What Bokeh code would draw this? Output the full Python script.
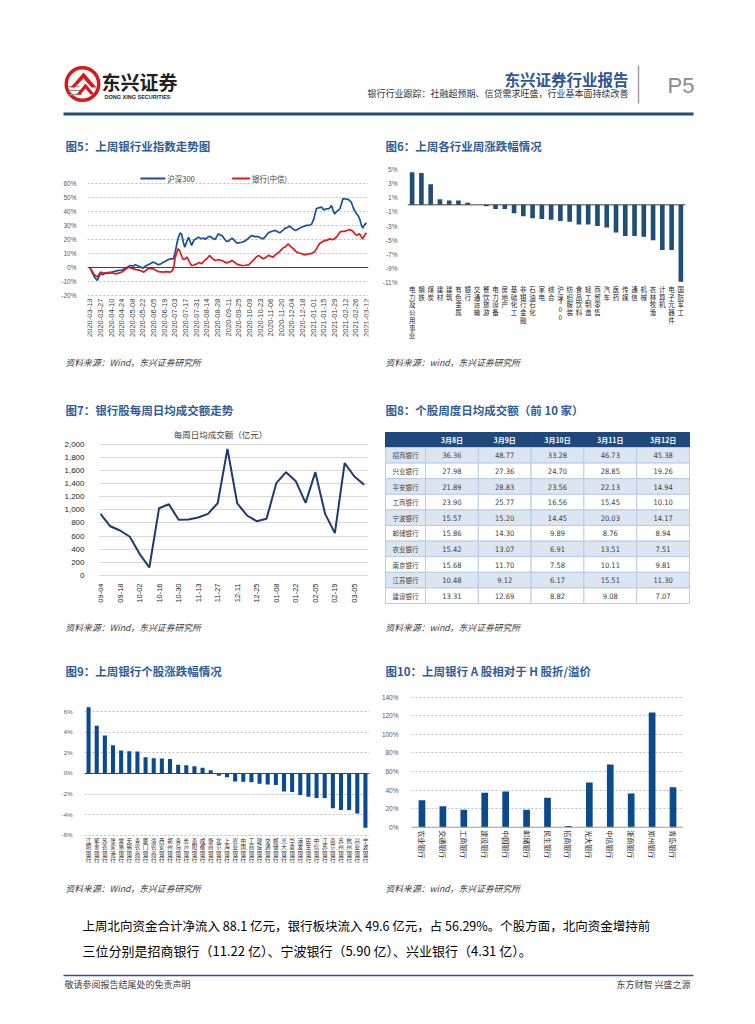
import math
import pandas as pd
from bokeh.plotting import figure
from bokeh.layouts import column, row
from bokeh.models import (Range1d, FactorRange, FixedTicker, Span,
                          NumeralTickFormatter, PrintfTickFormatter, ColumnDataSource)
from bokeh.core.properties import value
from bokeh.embed import file_html
from bokeh.resources import INLINE

CJK = "Noto Sans CJK SC"
LAT = "Liberation Sans"
NARROW = "Liberation Sans Narrow, DejaVu Sans Condensed, Liberation Sans"

# ---------------- data ----------------
fig5_start = "2020-03-13"
hs300_days = [0, 3, 5, 7, 10, 12, 14, 17, 20, 24, 29, 33, 38, 42, 47, 50, 53, 57, 60, 63, 66, 70, 73, 77,
              80, 83, 86, 90, 93, 96, 99, 103, 106, 110, 112, 115, 117, 119, 121, 123, 125, 128, 130, 132,
              134, 137, 140, 143, 147, 150, 152, 155, 158, 161, 165, 167, 169, 172, 174, 177, 180, 183,
              185, 187, 190, 193, 196, 200, 204, 208, 213, 217, 222, 225, 228, 231, 235, 238, 241, 244,
              247, 250, 254, 257, 260, 263, 266, 270, 273, 276, 280, 283, 285, 289, 292, 295, 298, 301,
              305, 308, 311, 315, 318, 320, 322, 325, 329, 331, 333, 336, 340, 344, 347, 349, 351, 353,
              355, 357, 359, 361, 364]
hs300_vals = [0, -3.5, -5.7, -7.5, -9.3, -6.5, -4.5, -5.2, -3.8, -4.2, -3.3, -2.8, -2.1, -1.8, -0.5, 0.3,
              1.4, 1.0, 1.9, 1.2, 0.5, -0.5, 1.0, 2.0, 2.9, 3.8, 3.3, 2.0, 2.4, 3.5, 4.3, 5.5, 6.2, 6.2,
              10.0, 18.0, 22.0, 24.7, 23.5, 18.0, 14.5, 19.0, 21.6, 18.5, 15.7, 19.5, 20.5, 21.6, 20.5,
              21.0, 20.0, 21.5, 22.3, 21.0, 20.0, 22.0, 24.0, 23.0, 22.8, 20.5, 18.5, 19.0, 20.0, 20.9,
              19.5, 17.6, 17.5, 18.0, 18.8, 20.5, 22.8, 22.0, 22.0, 21.0, 20.4, 22.0, 24.7, 25.5, 26.0,
              26.4, 25.5, 24.7, 26.5, 28.0, 28.5, 29.5, 28.0, 26.4, 27.0, 28.0, 29.0, 29.5, 30.0, 30.0,
              31.0, 35.0, 41.8, 42.5, 43.0, 41.0, 41.8, 42.0, 44.2, 41.0, 38.2, 40.0, 41.8, 45.0, 49.0,
              48.8, 48.5, 46.6, 42.0, 40.0, 38.2, 37.0, 34.7, 31.0, 28.0, 30.0, 31.8]
bank_days = [0, 3, 5, 8, 10, 12, 14, 17, 20, 24, 29, 33, 38, 42, 45, 48, 51, 55, 58, 61, 64, 68, 71, 74,
             77, 80, 84, 87, 90, 94, 97, 101, 106, 109, 111, 112, 114, 116, 117.5, 119, 121, 123, 125,
             128, 131, 134, 137, 141, 144, 147, 150, 154, 156, 158, 161, 165, 169, 174, 177, 180, 183,
             185, 187, 190, 193, 196, 200, 204, 209, 212, 215, 218, 222, 225, 228, 231, 235, 238, 241,
             244, 248, 251, 254, 258, 261, 264, 268, 271, 274, 278, 283, 286, 289, 292, 296, 299, 302,
             305, 309, 312, 316, 319, 322, 325, 329, 332, 335, 339, 342, 344, 346, 349, 351, 353, 355,
             357, 359, 361, 364]
bank_vals = [0, -2.5, -4.5, -6.0, -6.9, -5.0, -3.3, -3.8, -4.5, -3.5, -3.8, -4.5, -4.0, -3.2, -2.1, -1.0,
             0.2, -0.5, -1.0, -1.5, -1.7, -2.5, -3.3, -2.0, -0.5, -0.8, -1.0, -2.0, -2.9, -3.1, -3.3,
             -3.0, -3.3, -2.1, 2.0, 6.2, 10.0, 13.3, 12.5, 10.9, 8.0, 5.7, 6.0, 7.4, 4.0, 1.4, 1.8, 2.6,
             3.5, 2.6, 4.5, 6.2, 7.5, 8.6, 6.5, 5.0, 5.5, 5.0, 4.0, 3.3, 3.8, 4.3, 5.0, 4.0, 2.6, 2.0,
             1.4, 1.6, 1.9, 3.5, 5.0, 7.0, 8.6, 7.5, 6.2, 7.0, 8.6, 8.0, 7.4, 9.0, 10.5, 12.0, 13.8,
             15.0, 16.9, 15.0, 13.3, 11.5, 10.5, 10.0, 9.0, 9.5, 9.7, 10.0, 11.4, 14.0, 16.9, 18.0, 19.2,
             19.5, 20.4, 19.8, 20.4, 22.0, 25.2, 25.8, 25.7, 26.5, 27.0, 26.5, 25.7, 24.0, 22.8, 23.5,
             24.0, 22.0, 20.4, 22.5, 24.7]
fig5_ticks = ["2020-03-13", "2020-03-27", "2020-04-10", "2020-04-24", "2020-05-08", "2020-05-22",
              "2020-06-05", "2020-06-19", "2020-07-03", "2020-07-17", "2020-07-31", "2020-08-14",
              "2020-08-28", "2020-09-11", "2020-09-25", "2020-10-09", "2020-10-23", "2020-11-06",
              "2020-11-20", "2020-12-04", "2020-12-18", "2021-01-01", "2021-01-15", "2021-01-29",
              "2021-02-12", "2021-02-26", "2021-03-12"]
fig5_series = ["沪深300", "银行(中信)"]

ind_names = ["电力及公用事业", "钢铁", "煤炭", "建材", "建筑", "有色金属", "银行", "交通运输", "餐饮旅游",
             "电力设备", "房地产", "基础化工", "非银行金融", "石油石化", "家电", "综合", "沪深300", "纺织服装",
             "食品饮料", "轻工制造", "商贸零售", "汽车", "医药", "传媒", "通信", "机械", "农林牧渔", "计算机",
             "电子元器件", "国防军工"]
ind_chg = [4.6, 4.5, 2.9, 0.8, 0.6, 0.6, 0.3, 0.0, -0.2, -0.6, -0.6, -1.2, -1.6, -1.9, -2.0, -2.1, -2.3,
           -2.4, -2.8, -2.8, -3.0, -3.2, -3.9, -4.4, -4.4, -4.5, -5.0, -6.4, -6.4, -10.9]

week_dates = ["2020-09-04", "2020-09-11", "2020-09-18", "2020-09-25", "2020-10-02", "2020-10-09",
              "2020-10-16", "2020-10-23", "2020-10-30", "2020-11-06", "2020-11-13", "2020-11-20",
              "2020-11-27", "2020-12-04", "2020-12-11", "2020-12-18", "2020-12-25", "2021-01-01",
              "2021-01-08", "2021-01-15", "2021-01-22", "2021-01-29", "2021-02-05", "2021-02-12",
              "2021-02-19", "2021-02-26", "2021-03-05", "2021-03-12"]
turnover = [940, 750, 685, 590, 330, 122, 1025, 1086, 848, 853, 883, 939, 1100, 1929, 1100, 914, 827, 863,
            1406, 1574, 1437, 1107, 1574, 939, 645, 1711, 1508, 1381]

tbl_dates = ["3月8日", "3月9日", "3月10日", "3月11日", "3月12日"]
tbl_banks = ["招商银行", "兴业银行", "平安银行", "工商银行", "宁波银行", "邮储银行", "农业银行", "南京银行",
             "江苏银行", "建设银行"]
tbl_d1 = ["36.36", "27.98", "21.89", "23.90", "15.57", "15.86", "15.42", "15.68", "10.48", "13.31"]
tbl_d2 = ["48.77", "27.36", "28.83", "25.77", "15.20", "14.30", "13.07", "11.70", "9.12", "12.69"]
tbl_d3 = ["33.28", "24.70", "23.56", "16.56", "14.45", "9.89", "6.91", "7.58", "6.17", "8.82"]
tbl_d4 = ["46.73", "28.85", "22.13", "15.45", "20.03", "8.76", "13.51", "10.11", "15.51", "9.08"]
tbl_d5 = ["45.38", "19.26", "14.94", "10.10", "14.17", "8.94", "7.51", "9.81", "11.30", "7.07"]

stock_names = ["江阴银行", "紫金银行", "苏农银行", "张家港行", "常熟银行", "无锡银行", "青农商行", "厦门银行",
               "渝农商行", "西安银行", "郑州银行", "青岛银行", "长沙银行", "贵阳银行", "成都银行", "浙商银行",
               "北京银行", "上海银行", "农业银行", "中国银行", "工商银行", "建设银行", "交通银行", "邮储银行",
               "光大银行", "华夏银行", "浦发银行", "民生银行", "中信银行", "江苏银行", "南京银行", "苏州银行",
               "杭州银行", "兴业银行", "宁波银行"]
stock_chg = [6.44, 4.63, 3.69, 2.75, 2.23, 2.17, 2.14, 1.59, 1.49, 1.46, 1.42, 0.84, 0.81, 0.71, 0.55, 0.32,
             -0.23, -0.36, -0.78, -0.81, -0.84, -1.00, -1.07, -1.13, -1.75, -1.81, -2.10, -2.27, -2.39,
             -2.39, -3.37, -3.56, -3.56, -3.88, -5.27]

ah_banks = ["农业银行", "交通银行", "工商银行", "建设银行", "中国银行", "邮储银行", "民生银行", "招商银行",
            "光大银行", "中信银行", "浙商银行", "郑州银行", "青岛银行"]
ah_prem = [29.0, 22.6, 18.7, 37.0, 38.4, 18.7, 31.6, 1.4, 48.1, 67.5, 36.3, 123.5, 43.1]

# ---------------- helpers ----------------
TITLE_BLUE = "#2E5C98"
PW = 747  # page content width (page coords 0..747)


def band(top, bottom, x0=0, x1=PW, **kw):
    p = figure(width=int(x1 - x0), height=int(bottom - top), x_range=Range1d(x0, x1),
               y_range=Range1d(bottom, top), toolbar_location=None, output_backend="svg",
               min_border=0, x_axis_location=None, y_axis_location=None, **kw)
    p.grid.visible = False
    p.outline_line_color = None
    return p


def txt(p, x, y, s, size, color="#000000", bold=False, italic=False, align="left",
        font=CJK, baseline="middle"):
    style = "bold" if bold else ("italic" if italic else "normal")
    p.text(x=[x], y=[y], text=[s], text_font=value(font), text_font_size=value(f"{size}px"),
           text_color=color, text_font_style=style, text_align=align, text_baseline=baseline)


def chart(w, h, **kw):
    p = figure(width=w, height=h, toolbar_location=None, output_backend="svg",
               x_axis_location=None, **kw)
    p.outline_line_color = None
    return p


def yax(axis, size, color, standoff):
    axis.axis_line_color = None
    axis.major_tick_line_color = None
    axis.minor_tick_line_color = None
    axis.major_label_text_font_size = f"{size}px"
    axis.major_label_text_color = color
    axis.major_label_text_font = LAT
    axis.major_label_standoff = standoff


def labels(p, xs, y, texts, size, color, angle=0.0, align="center", baseline="top", yoff=2,
           font=CJK):
    src = ColumnDataSource(dict(x=xs, y=[y] * len(xs), t=texts))
    p.text(x="x", y="y", text="t", source=src, angle=angle, y_offset=yoff,
           text_font=value(font), text_font_size=value(f"{size}px"), text_color=color,
           text_align=align, text_baseline=baseline)


def stacked(p, cats, y, step, size, color, yoff0):
    """category labels written as upright characters stacked downward below value y"""
    xs, ts, offs = [], [], []
    for c in cats:
        for k, ch in enumerate(c):
            xs.append(c)
            ts.append(ch)
            offs.append(yoff0 + k * step)
    src = ColumnDataSource(dict(x=xs, y=[y] * len(xs), t=ts, o=offs))
    p.text(x="x", y="y", text="t", y_offset="o", source=src, text_font=value(CJK),
           text_font_size=value(f"{size}px"), text_color=color, text_align="center",
           text_baseline="top")


def dt(d, days=0.0):
    return (pd.Timestamp(d) + pd.Timedelta(days=days)).to_pydatetime()


# ---------------- band 1: header (page y 0..165) ----------------
b1 = band(0, 165)
RED = "#D7191C"
b1.annulus(x=[82], y=[83.5], inner_radius=14.5, outer_radius=18, fill_color=RED, line_color=None)
b1.segment(x0=[68, 68, 69], y0=[86, 90, 94], x1=[79, 80, 81], y1=[86, 90, 94], line_color="#9a9a9a",
           line_width=1.5)
b1.patch(x=[70, 83, 96, 91, 83, 74], y=[87, 72, 87, 87, 78, 87], fill_color=RED, line_color=None)
b1.patch(x=[76, 85, 94, 90, 85, 80], y=[94, 83, 94, 94, 88, 94], fill_color=RED, line_color=None)
txt(b1, 101, 81, "东兴证券", 19, "#231F20", bold=True)
txt(b1, 104, 96, "DONG XING SECURITIES", 5.5, "#231F20", bold=True, font=LAT)
txt(b1, 628, 78.5, "东兴证券行业报告", 15.5, "#2F5597", bold=True, align="right")
txt(b1, 628, 92.5, "银行行业跟踪：社融超预期、信贷需求旺盛，行业基本面持续改善", 9, "#333333",
    align="right")
b1.segment(x0=[638], y0=[65], x1=[638], y1=[103], line_color="#a0a0a0", line_width=1.5)
txt(b1, 667, 85, "P5", 22, "#8c8c8c", font=LAT)
b1.segment(x0=[63], y0=[113.5], x1=[693], y1=[113.5], line_color="#1F4E79", line_width=3)
txt(b1, 65, 145, "图5：上周银行业指数走势图", 11.5, TITLE_BLUE, bold=True)
txt(b1, 385, 145, "图6：上周各行业周涨跌幅情况", 11.5, TITLE_BLUE, bold=True)

# ---------------- fig 5 (page y 165..355, frame 169..340) ----------------
hs_x = [dt(fig5_start, d) for d in hs300_days]
bk_x = [dt(fig5_start, d) for d in bank_days]
p5 = chart(378, 190, x_range=Range1d(dt(fig5_start, -3.0), dt(fig5_start, 366.7)),
           y_range=Range1d(-52.0, 69.8),
           min_border_left=87, min_border_right=10, min_border_top=4, min_border_bottom=15)
p5.yaxis.ticker = FixedTicker(ticks=list(range(-20, 61, 10)))
p5.yaxis.formatter = PrintfTickFormatter(format="%d%%")
yax(p5.yaxis, 6.5, "#595959", 5)
p5.xgrid.visible = False
p5.ygrid.grid_line_color = "#bfbfbf"
p5.ygrid.grid_line_dash = "2 2"
p5.add_layout(Span(location=0, dimension="width", line_color="#404040", line_width=1))
BLUE5, RED5 = "#1B4F9C", "#E4181C"
p5.line(hs_x, hs300_vals, line_color=BLUE5, line_width=1.7)
p5.line(bk_x, bank_vals, line_color=RED5, line_width=1.7)
labels(p5, [dt(d) for d in fig5_ticks], -20, fig5_ticks, 7.5, "#404040", angle=math.pi / 2,
       align="right", baseline="middle", yoff=3, font=LAT)


# legend (placed in screen pixels of the page, converted through this chart's scales)
def px5(px):
    return dt(fig5_start, (px - 89.3) / 0.762)


LEG_Y = (267 - 178) / 1.404
p5.segment(x0=[px5(140), px5(232)], y0=[LEG_Y, LEG_Y], x1=[px5(165), px5(250)], y1=[LEG_Y, LEG_Y],
           line_color=[BLUE5, RED5], line_width=2.2)
p5.text(x=[px5(167), px5(252)], y=[LEG_Y, LEG_Y], text=fig5_series, text_font=value(CJK),
        text_font_size=value("7.5px"), text_color="#404040", text_align="left", text_baseline="middle")

# ---------------- fig 6 ----------------
ind_colors = ["#C00000" if n == "银行" else "#1F4E79" for n in ind_names]
p6 = chart(369, 190, x_range=FactorRange(*ind_names), y_range=Range1d(-19.2, 5),
           min_border_left=29, min_border_right=62, min_border_top=4, min_border_bottom=15)
p6.vbar(x=ind_names, top=ind_chg, width=0.5, fill_color=ind_colors, line_color=None)
p6.add_layout(Span(location=0, dimension="width", line_color="#404040", line_width=1))
p6.yaxis.ticker = FixedTicker(ticks=[5, 3, 1, -1, -3, -5, -7, -9, -11])
p6.yaxis.formatter = PrintfTickFormatter(format="%d%%")
yax(p6.yaxis, 6.5, "#595959", 4)
p6.grid.visible = False
stacked(p6, ind_names, -11, 7.7, 6.5, "#262626", 1.5)

# ---------------- band 2 (page y 355..425) ----------------
b2 = band(355, 425)
txt(b2, 65, 362, "资料来源：Wind，东兴证券研究所", 8.8, "#404040", italic=True)
txt(b2, 385, 362, "资料来源：wind，东兴证券研究所", 8.8, "#404040", italic=True)
txt(b2, 65, 409, "图7：银行股每周日均成交额走势", 11.5, TITLE_BLUE, bold=True)
txt(b2, 385, 409, "图8：个股周度日均成交额（前 10 家）", 11.5, TITLE_BLUE, bold=True)

# ---------------- fig 7 (page y 425..615, frame 428..610) ----------------
wk = [dt(d) for d in week_dates]
x7s, x7e = dt(week_dates[0], -1.43), dt(week_dates[0], 192.1)
p7 = chart(378, 190, x_range=Range1d(x7s, x7e), y_range=Range1d(-533, 2239),
           min_border_left=98, min_border_right=10, min_border_top=3, min_border_bottom=5)
p7.yaxis.ticker = FixedTicker(ticks=list(range(0, 2001, 200)))
p7.yaxis.formatter = NumeralTickFormatter(format="0,0")
yax(p7.yaxis, 8, "#262626", 8)
p7.xgrid.visible = False
p7.ygrid.grid_line_color = "#d9d9d9"
p7.line(wk, turnover, line_color="#1F3A73", line_width=2)
labels(p7, [dt(d) for d in week_dates[::2]], 0, [d[5:] for d in week_dates[::2]], 7.5, "#262626",
       angle=math.pi / 2, align="right", baseline="middle", yoff=8, font=LAT)
mid7 = (pd.Timestamp(x7s) + (pd.Timestamp(x7e) - pd.Timestamp(x7s)) * 0.452).to_pydatetime()
p7.text(x=[mid7], y=[2148], text=["每周日均成交额（亿元）"], text_font=value(CJK),
        text_font_size=value("8.5px"), text_color="#404040", text_align="center", text_baseline="middle")

# ---------------- fig 8 (table; page x 378..747, y 425..615, frame 428..610) ----------------
p8 = figure(width=369, height=190, x_range=Range1d(378, 747), y_range=Range1d(610, 428),
            toolbar_location=None, output_backend="svg", x_axis_location=None, y_axis_location=None,
            min_border_left=0, min_border_right=0, min_border_top=3, min_border_bottom=5)
p8.grid.visible = False
p8.outline_line_color = None
edges = [385, 425, 477.8, 530.6, 583.4, 636.2, 689]
top0, hh, rh = 432, 15, 15.6
cols = [tbl_banks, tbl_d1, tbl_d2, tbl_d3, tbl_d4, tbl_d5]
cx, cy, cw, chh, cf, cl = [], [], [], [], [], []
for j in range(6):
    cx.append((edges[j] + edges[j + 1]) / 2)
    cy.append(top0 + hh / 2)
    cw.append(edges[j + 1] - edges[j])
    chh.append(hh)
    cf.append("#1F497D")
    cl.append("#1F497D")
for i in range(len(tbl_banks)):
    for j in range(6):
        cx.append((edges[j] + edges[j + 1]) / 2)
        cy.append(top0 + hh + rh * i + rh / 2)
        cw.append(edges[j + 1] - edges[j])
        chh.append(rh)
        cf.append("#DCE6F2" if i % 2 == 0 else "#FFFFFF")
        cl.append("#B8CCE4")
p8.rect(x=cx, y=cy, width=cw, height=chh, fill_color=cf, line_color=cl, line_width=1)
for j, d in enumerate(tbl_dates):
    txt(p8, (edges[j + 1] + edges[j + 2]) / 2, top0 + hh / 2, d, 7, "#FFFFFF", bold=True, align="center")
for i in range(len(tbl_banks)):
    yy = top0 + hh + rh * i + rh / 2
    for j in range(6):
        f = CJK if j == 0 else NARROW
        sz = 6.5 if j == 0 else 7.5
        txt(p8, (edges[j] + edges[j + 1]) / 2, yy, cols[j][i], sz, "#404040", align="center", font=f)

# ---------------- band 3 (page y 615..685) ----------------
b3 = band(615, 685)
txt(b3, 65, 627, "资料来源：Wind，东兴证券研究所", 8.8, "#404040", italic=True)
txt(b3, 385, 627, "资料来源：wind，东兴证券研究所", 8.8, "#404040", italic=True)
txt(b3, 65, 670, "图9：上周银行个股涨跌幅情况", 11.5, TITLE_BLUE, bold=True)
txt(b3, 385, 670, "图10：上周银行 A 股相对于 H 股折/溢价", 11.5, TITLE_BLUE, bold=True)

# ---------------- fig 9 (page y 685..875, frame 694..870) ----------------
p9 = chart(378, 190, x_range=FactorRange(*stock_names), y_range=Range1d(-9.43, 7.68),
           min_border_left=84, min_border_right=9, min_border_top=9, min_border_bottom=5)
p9.yaxis.ticker = FixedTicker(ticks=[-6, -4, -2, 0, 2, 4, 6])
p9.yaxis.formatter = PrintfTickFormatter(format="%d%%")
yax(p9.yaxis, 6, "#595959", 6)
p9.xgrid.visible = False
p9.ygrid.grid_line_color = "#bfbfbf"
p9.ygrid.grid_line_dash = "2 2"
p9.vbar(x=stock_names, top=stock_chg, width=0.5, fill_color="#0A4A8E", line_color=None)
p9.add_layout(Span(location=0, dimension="width", line_color="#404040", line_width=1))
stacked(p9, stock_names, -6, 6.2, 5.5, "#262626", 2)

# ---------------- fig 10 ----------------
p10 = chart(369, 190, x_range=FactorRange(*ah_banks), y_range=Range1d(-46.6, 142.9),
            min_border_left=31, min_border_right=64, min_border_top=9, min_border_bottom=5)
p10.yaxis.ticker = FixedTicker(ticks=list(range(0, 141, 20)))
p10.yaxis.formatter = PrintfTickFormatter(format="%d%%")
yax(p10.yaxis, 6.5, "#595959", 7)
p10.xgrid.visible = False
p10.ygrid.grid_line_color = "#bfbfbf"
p10.ygrid.grid_line_dash = "2 2"
p10.vbar(x=ah_banks, top=ah_prem, width=0.32, fill_color="#0B4A8B", line_color=None)
p10.add_layout(Span(location=0, dimension="width", line_color="#a6a6a6", line_width=1))
labels(p10, ah_banks, 0, ah_banks, 7, "#262626", angle=-math.pi / 2, align="left",
       baseline="middle", yoff=3)

# ---------------- band 4 (page y 875..1000) ----------------
b4 = band(875, 1000)
txt(b4, 65, 888, "资料来源：Wind，东兴证券研究所", 8.8, "#404040", italic=True)
txt(b4, 385, 888, "资料来源：wind，东兴证券研究所", 8.8, "#404040", italic=True)
txt(b4, 82, 925, "上周北向资金合计净流入 88.1 亿元，银行板块流入 49.6 亿元，占 56.29%。个股方面，北向资金增持前",
    12.5, "#000000")
txt(b4, 82, 950, "三位分别是招商银行（11.22 亿）、宁波银行（5.90 亿）、兴业银行（4.31 亿）。", 13.0, "#000000")
b4.segment(x0=[63], y0=[975], x1=[693], y1=[975], line_color="#2F5597", line_width=1.5)
txt(b4, 64, 984, "敬请参阅报告结尾处的免责声明", 9, "#404040")
txt(b4, 690, 984, "东方财智 兴盛之源", 9, "#404040", align="right")

layout = column(b1, row(p5, p6), b2, row(p7, p8), b3, row(p9, p10), b4)
open("out.html", "w").write(file_html(layout, INLINE))
